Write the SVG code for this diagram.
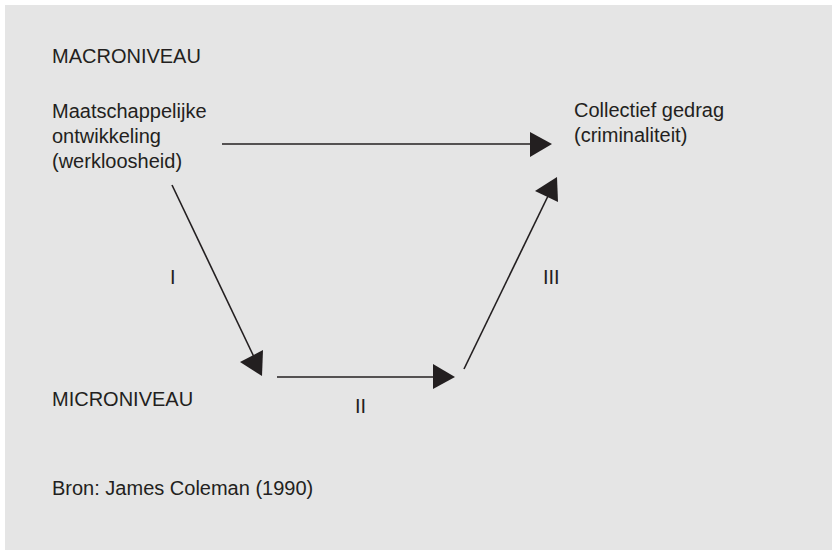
<svg xmlns="http://www.w3.org/2000/svg" width="832" height="550" viewBox="0 0 832 550">
<style>
text{font-family:"Liberation Sans",Arial,sans-serif;font-size:20px;fill:#231f20}
.ln{stroke:#231f20;stroke-width:1.6;fill:none}
.hd{fill:#231f20;stroke:none}
</style>
<rect x="0" y="0" width="832" height="550" fill="#ffffff"/>
<rect x="5" y="5" width="827" height="545" fill="#e5e5e5"/>
<g id="label-macro"><text x="52" y="63">MACRONIVEAU</text></g>
<g id="node-maatschappelijk">
<text x="52" y="118">Maatschappelijke</text>
<text x="52" y="143">ontwikkeling</text>
<text x="52" y="168">(werkloosheid)</text>
</g>
<g id="node-collectief">
<text x="574" y="117">Collectief gedrag</text>
<text x="574" y="142">(criminaliteit)</text>
</g>
<g id="label-micro"><text x="52" y="406">MICRONIVEAU</text></g>
<g id="label-I"><text x="170" y="284">I</text></g>
<g id="label-II"><text x="355" y="413">II</text></g>
<g id="label-III"><text x="543" y="284">III</text></g>
<g id="source"><text x="52" y="495" font-size="19.5">Bron: James Coleman (1990)</text></g>
<g id="connectors">
<line class="ln" x1="222" y1="144" x2="532" y2="144"/>
<polygon class="hd" points="530,132 552,144 530,157"/>
<line class="ln" x1="172" y1="185" x2="254" y2="357"/>
<polygon class="hd" points="240,362 263,350 262,376"/>
<line class="ln" x1="277" y1="377" x2="435" y2="377"/>
<polygon class="hd" points="433,364 455,377 433,389"/>
<line class="ln" x1="464" y1="369" x2="548" y2="196"/>
<polygon class="hd" points="535,191 557,177 558,202"/>
</g>
</svg>
